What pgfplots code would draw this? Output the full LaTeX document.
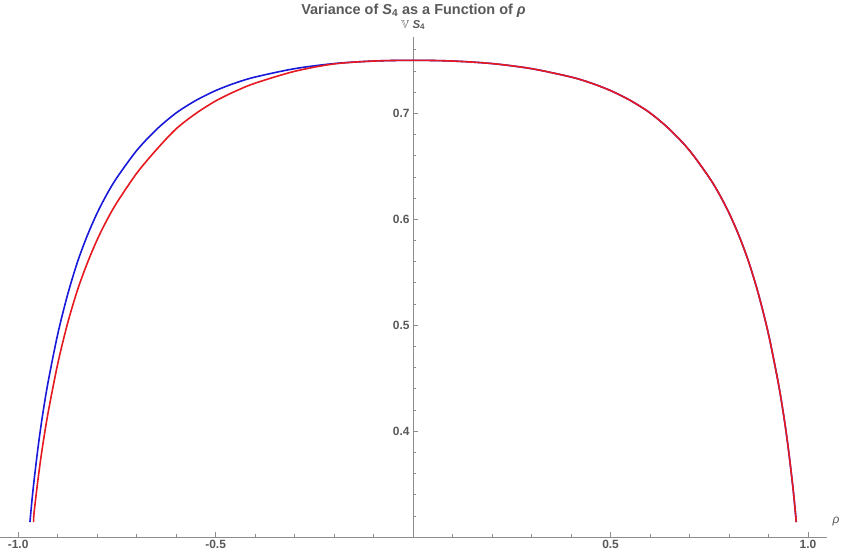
\documentclass[border=0pt]{standalone}
\usepackage{fontspec}
\setmainfont{Liberation Sans}
\usepackage{amssymb}
\usepackage{pgfplots}
\pgfplotsset{compat=1.18}
\definecolor{axgray}{gray}{0.55}
\definecolor{txtgray}{gray}{0.35}
\definecolor{mblue}{rgb}{0.1,0.1,0.85}
\definecolor{mred}{rgb}{0.9,0.1,0.12}
\begin{document}
\begin{tikzpicture}
\begin{axis}[
  scale only axis, width=827bp, height=500bp,
  xmin=-1.046, xmax=1.048, ymin=0.3, ymax=0.772,
  axis x line=bottom, axis y line=center,
  axis line style={axgray, line width=0.8bp, -},
  xtick={-1,-0.5,0.5,1}, ytick={0.4,0.5,0.6,0.7},
  minor xtick={-0.9,-0.8,-0.7,-0.6,-0.4,-0.3,-0.2,-0.1,0.1,0.2,0.3,0.4,0.6,0.7,0.8,0.9},
  minor ytick={0.32,0.34,0.36,0.38,0.42,0.44,0.46,0.48,0.52,0.54,0.56,0.58,0.62,0.64,0.66,0.68,0.72,0.74,0.76},
  tick align=inside,
  major tick length=5bp, minor tick length=3bp,
  tick style={axgray, line width=0.6bp},
  ticklabel style={font=\fontsize{12}{13}\selectfont\bfseries, text=txtgray},
  /pgf/number format/fixed, /pgf/number format/fixed zerofill,
  /pgf/number format/precision=1, /pgf/number format/assume math mode=true,
  title={Variance of \textit{S}\textsubscript{4} as a Function of \textit{ρ}},
  title style={at={(axis description cs:0.5,1)}, anchor=center, yshift=20bp,
    inner sep=0.5bp, font=\fontsize{14.5}{15}\selectfont\bfseries, text=txtgray},
  ylabel={$\mathbb{V}$ \textit{S}\textsubscript{4}},
  ylabel style={at={(axis description cs:0.4995,1)}, anchor=center, yshift=12bp,
    inner sep=0.5bp, font=\fontsize{11.5}{12}\selectfont\bfseries, text=txtgray},
  xlabel={\textit{ρ}},
  xlabel style={at={(axis description cs:1,0)}, anchor=west, xshift=2bp, yshift=15bp,
    font=\fontsize{12}{13}\selectfont, text=txtgray},
]
\coordinate (bl) at (rel axis cs:0,0);
% blue curve (symmetric in rho)
\addplot[mblue, line width=1.6bp, smooth] coordinates {
(-0.9702,0.3140) (-0.965,0.3348) (-0.960,0.3525) (-0.950,0.3836) (-0.940,0.4106)
(-0.925,0.4447) (-0.900,0.4912) (-0.875,0.5285) (-0.850,0.5594) (-0.825,0.5845)
(-0.800,0.6058) (-0.775,0.6238) (-0.750,0.6392) (-0.700,0.6648) (-0.650,0.6846)
(-0.600,0.7003) (-0.550,0.7121) (-0.500,0.7214) (-0.450,0.7286) (-0.400,0.7342)
(-0.300,0.7421) (-0.200,0.7469) (-0.100,0.7493) (0,0.7500)
(0.100,0.7493) (0.200,0.7469) (0.300,0.7421) (0.400,0.7342) (0.450,0.7286)
(0.500,0.7214) (0.550,0.7121) (0.600,0.7003) (0.650,0.6846) (0.700,0.6648)
(0.750,0.6392) (0.775,0.6238) (0.800,0.6058) (0.825,0.5845) (0.850,0.5594)
(0.875,0.5285) (0.900,0.4912) (0.925,0.4447) (0.940,0.4106) (0.950,0.3836)
(0.960,0.3525) (0.965,0.3348) (0.9702,0.3140)
};
% red curve
\addplot[mred, line width=1.6bp, smooth] coordinates {
(-0.9607,0.3140) (-0.960,0.3220) (-0.950,0.3536) (-0.940,0.3811) (-0.925,0.4157)
(-0.900,0.4632) (-0.875,0.5015) (-0.850,0.5329) (-0.825,0.5585) (-0.800,0.5806)
(-0.775,0.5994) (-0.750,0.6157) (-0.700,0.6433) (-0.650,0.6656) (-0.600,0.6853)
(-0.550,0.6998) (-0.500,0.7116) (-0.450,0.7208) (-0.400,0.7284) (-0.300,0.7396)
(-0.200,0.7466) (-0.100,0.7493) (0,0.7500)
(0.100,0.7493) (0.200,0.7469) (0.300,0.7421) (0.400,0.7342) (0.450,0.7286)
(0.500,0.7214) (0.550,0.7121) (0.600,0.7003) (0.650,0.6846) (0.700,0.6648)
(0.750,0.6392) (0.775,0.6238) (0.800,0.6058) (0.825,0.5845) (0.850,0.5594)
(0.875,0.5285) (0.900,0.4912) (0.925,0.4447) (0.940,0.4106) (0.950,0.3836)
(0.960,0.3525) (0.965,0.3348) (0.9702,0.3140)
};
\end{axis}
\pgfresetboundingbox
\path (bl) ++(0,-18bp) rectangle ++(842bp,555bp);
\end{tikzpicture}
\end{document}
